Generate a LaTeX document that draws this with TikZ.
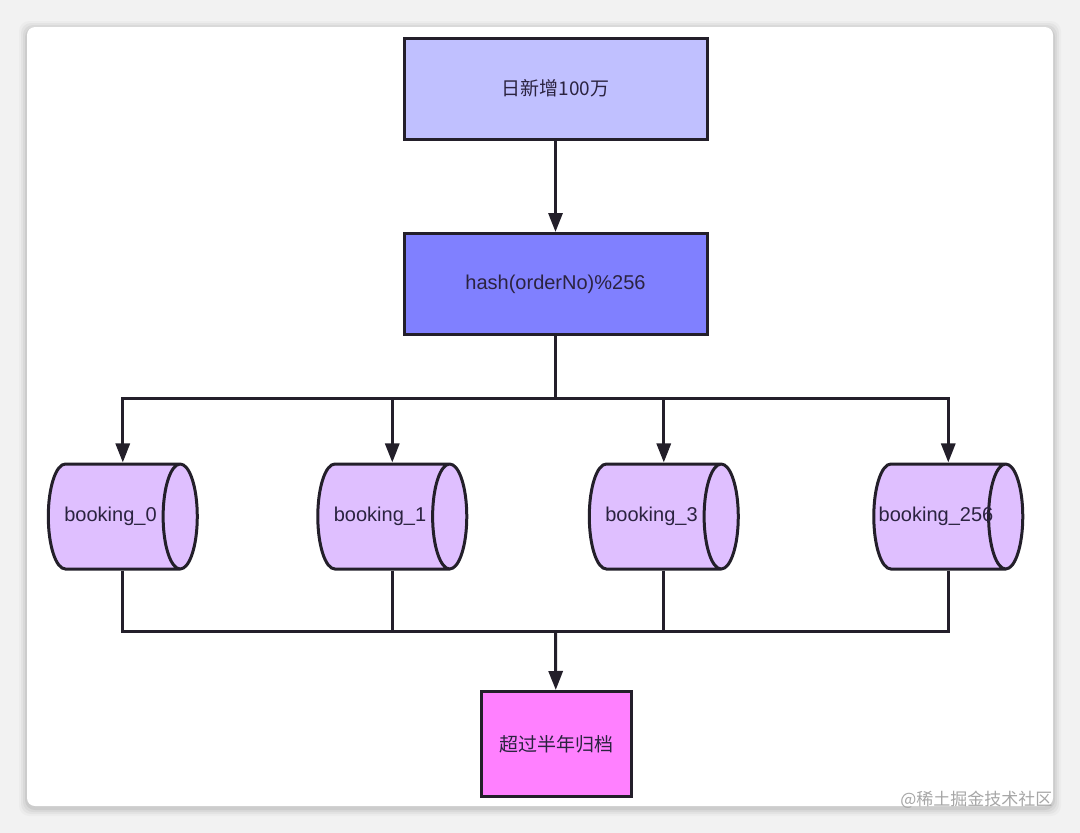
\documentclass[tikz,border=0pt]{standalone}
\usepackage{fontspec}
\setmainfont{Liberation Sans}
\newfontfamily\cjk{Noto Sans CJK SC}
\usetikzlibrary{shapes.geometric,arrows.meta}
\definecolor{ink}{HTML}{231F2A}
\definecolor{txt}{HTML}{2B2340}
\definecolor{inflow}{HTML}{C0C0FF}
\definecolor{hashfill}{HTML}{8080FF}
\definecolor{shardfill}{HTML}{DFBFFF}
\definecolor{archfill}{HTML}{FF80FF}
\begin{document}
\begin{tikzpicture}[x=1pt,y=-1pt,
        box/.style={rectangle,draw=ink,line width=3pt,minimum width=303pt,
            minimum height=101pt,text=txt,font=\fontsize{19}{23}\selectfont},
        shard/.style={cylinder,draw=ink,line width=3pt,fill=shardfill,aspect=1.35,
            minimum width=105pt,minimum height=149pt,text=txt,
            font=\fontsize{20}{24}\selectfont},
        arr/.style={-{Triangle[length=19pt,width=14pt]},draw=ink,line width=3pt},
        wire/.style={draw=ink,line width=3pt}]
    \useasboundingbox (0,0) rectangle (1080,833);
    \fill[black!5] (0,0) rectangle (1080,833);
    % card
    \foreach \s/\o in {8/0.025,6/0.035,4/0.045,2/0.06}
        \fill[black,opacity=\o,rounded corners=10pt] (27-\s,27-\s+2) rectangle (1053+\s,806+\s+2);
    \fill[white,rounded corners=8pt] (27,27) rectangle (1053,806);

    \node[box,fill=inflow] (daily) at (555.5,88.5) {\cjk 日新增100万};
    \node[box,fill=hashfill,font=\fontsize{20}{24}\selectfont] (hash) at (555.5,284) {hash(orderNo)\%256};

    \node[shard] (b0) at (110.5,516.5) {booking\_0};
    \node[shard] (b1) at (380,516.5) {booking\_1};
    \node[shard] (b3) at (651.5,516.5) {booking\_3};
    \node[shard] (b256) at (936,516.5) {\makebox[88pt]{booking\_256}};

    \node[box,fill=archfill,minimum width=150pt,minimum height=105pt] (archive) at (556,744) {\cjk 超过半年归档};

    \coordinate (split) at (555.5,398);
    \coordinate (merge) at (555.5,631);

    \draw[arr] (daily) -- (hash);
    \draw[wire] (hash.south) -- (split);
    \foreach \b in {b0,b1,b3,b256}{
        \draw[arr] (split) -| (\b.shape center |- \b.north);
        \draw[wire] (\b.shape center |- \b.south) |- (merge);
    }
    \draw[arr] (merge) -- (archive);

    \node[text=black!35,font=\cjk\fontsize{17}{20}\selectfont,anchor=east] (mark) at (1056,800) {@稀土掘金技术社区};
\end{tikzpicture}
\end{document}
